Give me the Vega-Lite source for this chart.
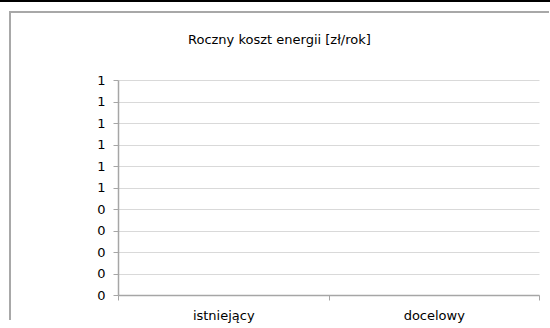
{
  "$schema": "https://vega.github.io/schema/vega-lite/v6.json",
  "padding": 0,
  "background": "white",
  "bounds": "flush",
  "spacing": 10,
  "config": {"font": "DejaVu Sans"},
  "vconcat": [
    {
      "width": 550,
      "height": 2,
      "view": {"stroke": null, "fill": "#000000"},
      "data": {"values": []},
      "mark": "point",
      "encoding": {}
    },
    {
      "bounds": "flush",
      "spacing": 9,
      "hconcat": [
        {
          "width": 1,
          "height": 308,
          "view": {"stroke": null},
          "data": {"values": []},
          "mark": "point",
          "encoding": {}
        },
        {
          "width": 539,
          "height": 308,
          "view": {"stroke": "#a8a8a8", "strokeWidth": 2, "strokeDash": [539, 847, 320]},
          "title": {
            "text": "Roczny koszt energii [zł/rok]",
            "frame": "group",
            "anchor": "start",
            "offset": -45,
            "baseline": "alphabetic",
            "dx": 178,
            "font": "DejaVu Sans",
            "fontSize": 13,
            "fontWeight": "normal",
            "color": "#000000"
          },
          "data": {
            "values": [
              {"wariant": "istniejący", "koszt": 0},
              {"wariant": "docelowy", "koszt": 0}
            ]
          },
          "mark": {"type": "bar", "color": "#4f81bd"},
          "encoding": {
            "x": {
              "field": "wariant",
              "type": "nominal",
              "sort": null,
              "scale": {"range": [108, 529], "paddingInner": 0, "paddingOuter": 0},
              "axis": {
                "title": null,
                "orient": "bottom",
                "offset": -25,
                "labelAngle": 0,
                "tickBand": "extent",
                "domainColor": "#a6a6a6",
                "domainWidth": 1.5,
                "tickColor": "#a6a6a6",
                "tickSize": 5,
                "tickWidth": 1,
                "labelFont": "DejaVu Sans",
                "labelFontSize": 13,
                "labelColor": "#000000",
                "labelPadding": 9,
                "grid": false
              }
            },
            "y": {
              "field": "koszt",
              "type": "quantitative",
              "scale": {"domain": [0, 1], "range": [283, 68], "nice": false},
              "axis": {
                "title": null,
                "values": [0, 0.1, 0.2, 0.3, 0.4, 0.5, 0.6, 0.7, 0.8, 0.9, 1],
                "format": ".0f",
                "offset": -108,
                "domainColor": "#a6a6a6",
                "domainWidth": 1.5,
                "tickColor": "#a6a6a6",
                "tickSize": 5,
                "tickWidth": 1,
                "labelFont": "DejaVu Sans",
                "labelFontSize": 13,
                "labelColor": "#000000",
                "labelPadding": 8,
                "grid": true,
                "gridColor": "#d9d9d9",
                "gridWidth": 1
              }
            }
          }
        }
      ]
    }
  ]
}
